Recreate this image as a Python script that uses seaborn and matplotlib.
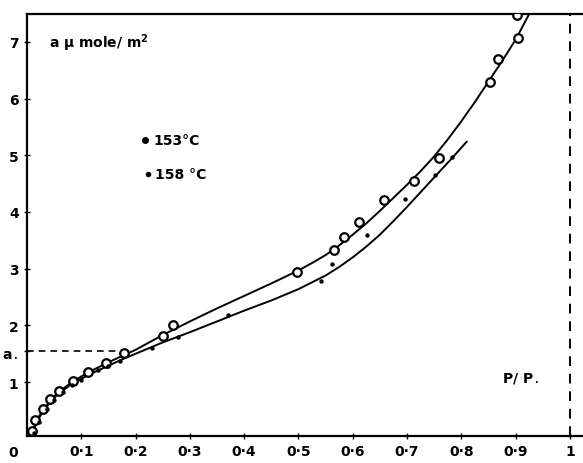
import matplotlib
matplotlib.use("Agg")
import matplotlib.pyplot as plt
import seaborn as sns
import pandas as pd

# 153 °C (open circles)
x153 = [0.009, 0.015, 0.029, 0.042, 0.059, 0.085, 0.113, 0.145, 0.179, 0.250, 0.268,
        0.497, 0.565, 0.584, 0.611, 0.658, 0.712, 0.759, 0.853, 0.868, 0.905, 0.903]
y153 = [0.14, 0.33, 0.53, 0.71, 0.85, 1.02, 1.17, 1.33, 1.51, 1.81, 2.01,
        2.94, 3.33, 3.55, 3.82, 4.21, 4.54, 4.96, 6.29, 6.70, 7.07, 7.48]
# 158 °C (dots)
x158 = [0.012, 0.022, 0.036, 0.05, 0.066, 0.082, 0.10, 0.131, 0.15, 0.172,
        0.23, 0.278, 0.371, 0.542, 0.562, 0.626, 0.696, 0.752, 0.783]
y158 = [0.10, 0.30, 0.52, 0.68, 0.82, 0.95, 1.04, 1.21, 1.29, 1.37,
        1.60, 1.79, 2.18, 2.79, 3.08, 3.59, 4.22, 4.65, 4.97]

# fitted curves
cx153 = [0.005, 0.01, 0.015, 0.02, 0.03, 0.04, 0.05, 0.06, 0.08, 0.1, 0.125, 0.15,
         0.175, 0.2, 0.25, 0.3, 0.35, 0.4, 0.45, 0.5, 0.525, 0.55, 0.575, 0.6,
         0.625, 0.65, 0.675, 0.7, 0.725, 0.75, 0.775, 0.8, 0.825, 0.85, 0.875, 0.9, 0.926]
cy153 = [0.0, 0.12, 0.25, 0.36, 0.52, 0.64, 0.75, 0.84, 0.98, 1.1, 1.23, 1.35,
         1.46, 1.57, 1.83, 2.07, 2.3, 2.52, 2.74, 2.97, 3.1, 3.24, 3.41, 3.6,
         3.8, 4.02, 4.25, 4.48, 4.72, 4.98, 5.28, 5.6, 5.94, 6.3, 6.66, 7.04, 7.51]
cx158 = [0.005, 0.01, 0.015, 0.02, 0.03, 0.04, 0.05, 0.06, 0.08, 0.1, 0.125, 0.15,
         0.175, 0.2, 0.25, 0.3, 0.35, 0.4, 0.45, 0.5, 0.55, 0.575, 0.6, 0.625,
         0.65, 0.675, 0.7, 0.725, 0.75, 0.78, 0.81]
cy158 = [0.0, 0.1, 0.22, 0.33, 0.49, 0.61, 0.72, 0.81, 0.95, 1.06, 1.18, 1.29,
         1.4, 1.5, 1.7, 1.88, 2.07, 2.26, 2.44, 2.64, 2.88, 3.03, 3.2, 3.39,
         3.6, 3.84, 4.09, 4.35, 4.61, 4.92, 5.24]

xticks = [0.1, 0.2, 0.3, 0.4, 0.5, 0.6, 0.7, 0.8, 0.9, 1.0]
xticklabels = ["0·1", "0·2", "0·3", "0·4", "0·5", "0·6", "0·7", "0·8", "0·9", "1"]
a0 = 1.55
yticks = [1, a0, 2, 3, 4, 5, 6, 7]
yticklabels = ["1", "a$_\\bullet$", "2", "3", "4", "5", "6", "7"]

sns.set_style("ticks", {"axes.edgecolor": "black", "text.color": "black",
                        "xtick.color": "black", "ytick.color": "black"})
plt.rcParams["font.family"] = ["DejaVu Sans"]
plt.rcParams["font.weight"] = "bold"

fig = plt.figure(figsize=(5.83, 4.64), dpi=100)
ax = fig.add_axes([27 / 583, 1 - 437 / 464, 1 - 27 / 583, (437 - 15) / 464])

c1 = pd.DataFrame({"x": cx153, "y": cy153})
c2 = pd.DataFrame({"x": cx158, "y": cy158})
sns.lineplot(data=c1, x="x", y="y", sort=False, color="black", lw=1.4, ax=ax)
sns.lineplot(data=c2, x="x", y="y", sort=False, color="black", lw=1.4, ax=ax)

p1 = pd.DataFrame({"x": x153, "y": y153})
p2 = pd.DataFrame({"x": x158, "y": y158})
sns.scatterplot(data=p1, x="x", y="y", marker="o", s=38, facecolor="white",
                edgecolor="black", linewidth=1.6, ax=ax, zorder=4)
sns.scatterplot(data=p2, x="x", y="y", marker="o", s=10, color="black",
                linewidth=0, ax=ax, zorder=5)

ax.plot([0, 0.18], [a0, a0], ls=(0, (4, 3)), color="black", lw=1.2)
ax.plot([1, 1], [0.05, 7.49], ls=(0, (5, 4)), color="black", lw=1.4)

ax.set_xlim(0, 1.024)
ax.set_ylim(0.05, 7.49)
ax.set_xticks(xticks)
ax.set_xticklabels(xticklabels, fontsize=10, fontweight="bold", color="black")
ax.set_yticks(yticks)
ax.set_yticklabels(yticklabels, fontsize=10, fontweight="bold", color="black")
ax.tick_params(direction="inout", length=4, width=1, pad=4, colors="black")
ax.set_xlabel("")
ax.set_ylabel("")
for s in ["left", "bottom", "top"]:
    ax.spines[s].set_linewidth(1.6)
    ax.spines[s].set_color("black")
ax.spines["right"].set_visible(False)

ax.text(-0.025, -0.022, "0", transform=ax.get_xaxis_transform(), fontsize=10,
        fontweight="bold", ha="center", va="top", clip_on=False, color="black")
ax.text(0.04, 7.0, "a \u03bc mole/ m$^{\\mathbf{2}}$", fontsize=10, fontweight="bold",
        va="center", color="black")
ax.plot([0.217], [5.26], "o", color="black", ms=4)
ax.text(0.232, 5.26, "153°C", fontsize=10, fontweight="bold", va="center", color="black")
ax.plot([0.222], [4.67], "o", color="black", ms=3)
ax.text(0.235, 4.67, "158 °C", fontsize=10, fontweight="bold", va="center", color="black")
ax.text(0.875, 1.07, "P/ P$_\\bullet$", fontsize=10, fontweight="bold", va="center",
        color="black")

fig.savefig("out.png", dpi=100)
